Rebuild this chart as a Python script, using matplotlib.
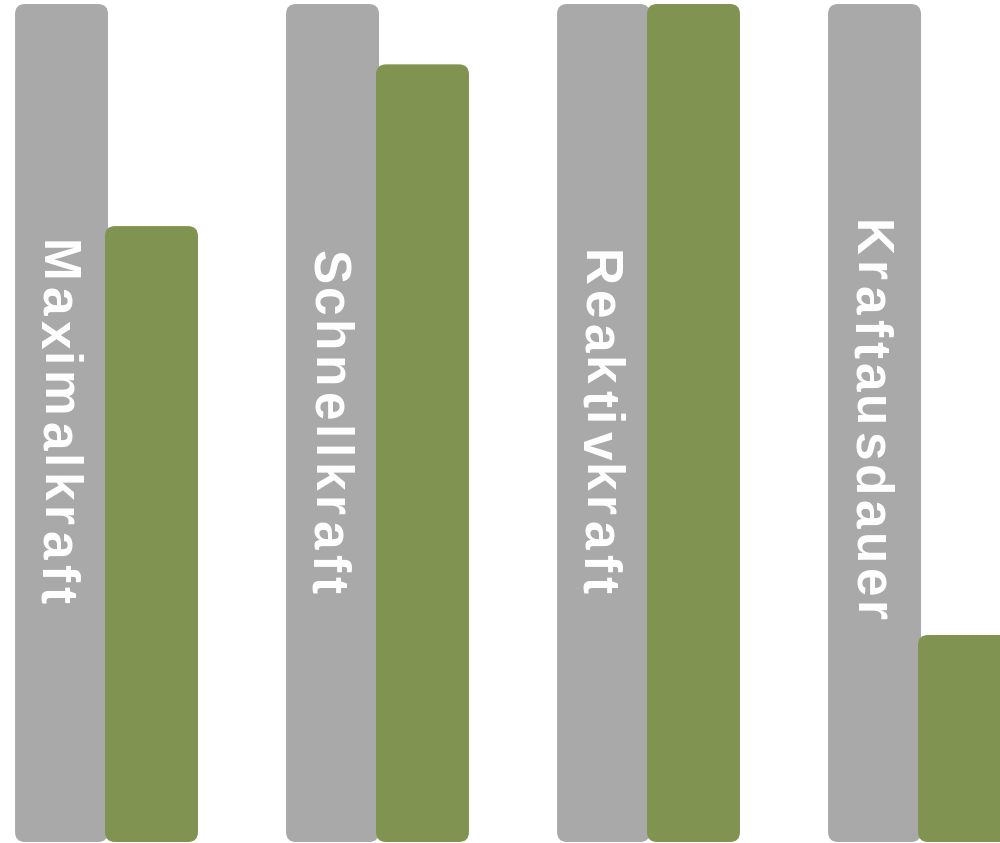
import numpy as np
import matplotlib
matplotlib.use('Agg')
import matplotlib.pyplot as plt
from matplotlib.patches import FancyBboxPatch
from matplotlib import transforms
from matplotlib.font_manager import FontProperties, findfont, get_font

labels = ['Maximalkraft', 'Schnellkraft', 'Reaktivkraft', 'Kraftausdauer']
reference = [100, 100, 100, 100]
values = [73.5, 92.8, 100, 24.7]

gray = '#a9a9a9'
green = '#819350'

fig = plt.figure(figsize=(10, 8.43), dpi=100)
ax = fig.add_axes([0, 0, 1, 1])
xmin, xmax = -0.393, 3.297
ymin, ymax = -0.12, 100.48
ax.set_xlim(xmin, xmax)
ax.set_ylim(ymin, ymax)
ax.axis('off')

x = np.arange(len(labels))
w = 0.343
off = 0.166

# pixels per data unit, used to keep the rounded corners circular
px_x = 1000 / (xmax - xmin)
px_y = 843 / (ymax - ymin)
aspect = px_x / px_y
rad = 10 / px_x


def rounded_bars(bars, color, z):
    for b in bars:
        b.set_visible(False)
        p = FancyBboxPatch((b.get_x(), b.get_y()), b.get_width(), b.get_height(),
                           boxstyle='round,pad=0,rounding_size=%f' % rad,
                           mutation_aspect=aspect, fc=color, ec='none', zorder=z)
        ax.add_patch(p)


rounded_bars(ax.bar(x - off, reference, w, align='center'), gray, 2)
rounded_bars(ax.bar(x + off, values, w, align='center'), green, 3)

# vertical labels with letter spacing, placed char by char
fp = FontProperties(family='Liberation Sans', weight='bold', size=37)
font = get_font(findfont(fp))
font.set_size(37, 100)
spacing = 4.5  # px

for xi, lab in zip(x - off, labels):
    adv = []
    for ch in lab:
        g = font.load_char(ord(ch))
        adv.append(g.linearHoriAdvance / 65536)
    total = sum(adv) + spacing * (len(lab) - 1)
    pos = total / 2
    for ch, a in zip(lab, adv):
        tr = transforms.offset_copy(ax.transData, fig=fig, x=-20.5, y=pos, units='dots')
        ax.text(xi, 50.2, ch, transform=tr, rotation=-90, rotation_mode='anchor',
                ha='left', va='baseline', fontproperties=fp, color='white', zorder=4)
        pos -= a + spacing

fig.savefig('out.png', dpi=100)
